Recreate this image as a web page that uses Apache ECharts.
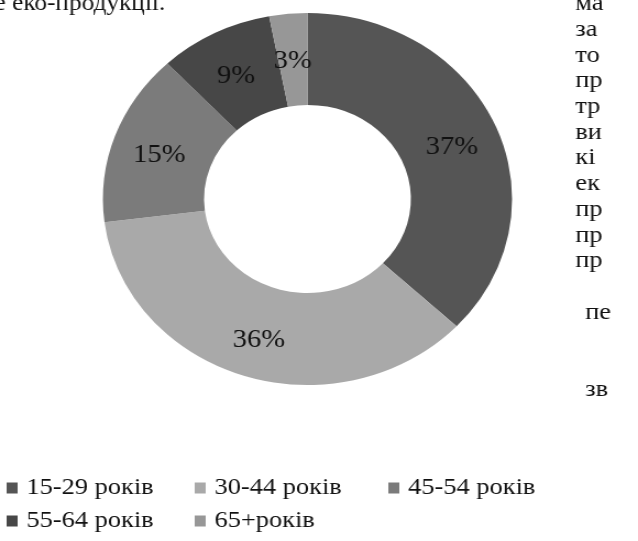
<!DOCTYPE html>
<html>
<head>
<meta charset="utf-8">
<title>Вікові групи</title>
<script src="https://cdn.jsdelivr.net/npm/echarts@6/dist/echarts.min.js"></script>
<style>
  html, body {
    margin: 0;
    padding: 0;
    background: #fff;
    overflow: hidden;
  }
  /* скан на рисунку трохи розтягнутий по горизонталі, тому і тут так */
  #main {
    width: 580px;
    height: 541px;
    transform: scaleX(1.1);
    transform-origin: 0 0;
  }
</style>
</head>
<body>
<div id="main"></div>
<script>
  // дані діаграми
  var categories = ['15-29 років', '30-44 років', '45-54 років', '55-64 років', '65+років']
  var shares = [37, 36, 15, 9, 3]
  var colors = ['#555555', '#a9a9a9', '#7b7b7b', '#474747', '#979797']

  // уривки тексту сторінки навколо рисунка
  var topLine = 'е еко-продукції.'
  var sideWords = ['ма', 'за', 'то', 'пр', 'тр', 'ви', 'кі', 'ек', 'пр', 'пр', 'пр', '', 'пе', '', '', 'зв']

  var serif = '"Liberation Serif", "DejaVu Serif", serif'

  var chart = echarts.init(document.getElementById('main'))

  // легенда: кожен пункт окремо, щоб стояли колонками як на рисунку
  var legendPos = [
    {left: 6, top: 476},
    {left: 177, top: 476},
    {left: 353, top: 476},
    {left: 6, top: 509},
    {left: 177, top: 509}
  ]
  var legends = categories.map(function (name, i) {
    return {
      data: [name],
      left: legendPos[i].left,
      top: legendPos[i].top,
      padding: 0,
      icon: 'rect',
      itemWidth: 10,
      itemHeight: 11,
      itemGap: 0,
      selectedMode: false,
      textStyle: {
        fontFamily: serif,
        fontSize: 24,
        color: '#111',
        padding: [0, 0, 0, 3]
      }
    }
  })

  var graphics = [{
    type: 'text',
    left: -5,
    top: -8,
    style: {text: topLine, font: '23px ' + serif, fill: '#111'}
  }]
  sideWords.forEach(function (w, i) {
    if (!w) return
    graphics.push({
      type: 'text',
      left: i >= 12 ? 532 : 523,
      top: -8 + i * 25.7,
      style: {text: w, font: '24px ' + serif, fill: '#111'}
    })
  })

  var option = {
    animation: false,
    color: colors,
    legend: legends,
    graphic: graphics,
    series: [{
      type: 'pie',
      center: [279.5, 199],
      radius: [94, 186],
      startAngle: 90,
      clockwise: true,
      avoidLabelOverlap: false,
      label: {
        show: true,
        position: 'inside',
        formatter: '{c}%',
        fontFamily: serif,
        fontSize: 26,
        color: '#111',
        offset: [0, 5]
      },
      labelLine: {show: false},
      itemStyle: {borderWidth: 0},
      data: categories.map(function (name, i) {
        return {name: name, value: shares[i]}
      })
    }]
  }

  chart.setOption(option)
</script>
</body>
</html>
